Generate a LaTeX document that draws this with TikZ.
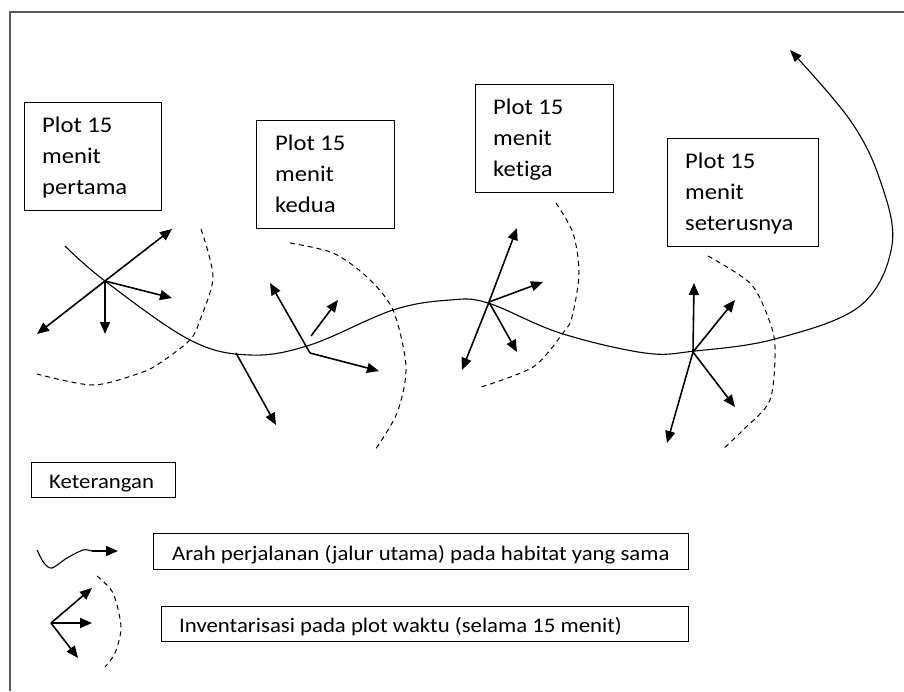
\documentclass[tikz,border=0pt]{standalone}
\usepackage{fontspec}
\setmainfont{Carlito}[FakeStretch=1.1,Ligatures=NoCommon]
\usetikzlibrary{arrows.meta}

\begin{document}
\begin{tikzpicture}[x=1pt,y=-1pt,
  vec/.style={-{Triangle[length=12pt,width=10pt]},line width=1.6pt},
  jalur/.style={line width=1.1pt},
  batas/.style={line width=1pt,dash pattern=on 5pt off 4pt},
  kotak/.style={draw,line width=1.2pt,minimum height=108pt,inner sep=0pt,anchor=north west},
  isi/.style={anchor=north west,inner sep=0pt,align=left,font=\fontsize{22.4}{31}\selectfont},
  ket/.style={anchor=base west,inner sep=0pt,font=\fontsize{20.7}{24}\selectfont}]
\useasboundingbox (0,0) rectangle (904,691);
\draw[line width=1.4pt,black!65] (10,691)--(10,12)--(904,12);

% kotak plot
\node[kotak,minimum width=137pt] (k1) at (24,102) {};
\node[kotak,minimum width=138pt] (k2) at (256,120) {};
\node[kotak,minimum width=138pt] (k3) at (475,84) {};
\node[kotak,minimum width=151pt] (k4) at (667,138) {};
\node[isi] (t1) at ([shift={(18,15)}]k1.north west) {Plot 15\\menit\\pertama};
\node[isi] (t2) at ([shift={(19,15)}]k2.north west) {Plot 15\\menit\\kedua};
\node[isi] (t3) at ([shift={(18,15)}]k3.north west) {Plot 15\\menit\\ketiga};
\node[isi] (t4) at ([shift={(18,15)}]k4.north west) {Plot 15\\menit\\seterusnya};

% jalur utama
\draw[jalur,-{Triangle[length=12pt,width=9pt]}] plot[smooth,tension=0.6] coordinates {(65,246) (105,281) (190,340) (250,355) (310,345) (393,310) (450,300) (488,303) (560,333) (645,353) (695,351) (775,339) (860,306) (892,245) (880,180) (850,120) (790,50)};

\coordinate (p1) at (105,281);
\coordinate (p2) at (310,353);
\coordinate (q2) at (236,353);
\coordinate (p3) at (489,302);
\coordinate (p4) at (693,352);

% plot 1
\draw[vec] (p1) -- ++(67,-52);
\draw[vec] (p1) -- ++(-68,53);
\draw[vec] (p1) -- ++(67,17);
\draw[vec] (p1) -- ++(0,53);
\draw[batas] plot[smooth] coordinates {(201,229) (213,277) (200,320) (190,340) (160,363) (140,373) (93,385) (37,374)};

% plot 2
\draw[vec] (p2) -- ++(-40,-70);
\draw[vec] (p2) -- ++(69,18);
\draw[vec] ([shift={(1,-17)}]p2) -- ++(27,-36);
\draw[vec] (q2) -- ++(40,72);
\draw[batas] plot[smooth] coordinates {(290,243) (333,253) (367,277) (393,310) (406,367) (397,413) (375,450)};

% plot 3
\draw[vec] (p3) -- ++(28,-74);
\draw[vec] (p3) -- ++(-27,68);
\draw[vec] (p3) -- ++(54,-20);
\draw[vec] (p3) -- ++(28,50);
\draw[batas] plot[smooth] coordinates {(556,203) (573,233) (579,273) (572,317) (563,333) (533,367) (478,388)};

% plot 4
\draw[vec] (p4) -- ++(1,-69);
\draw[vec] (p4) -- ++(42,-52);
\draw[vec] (p4) -- ++(42,55);
\draw[vec] (p4) -- ++(-26,91);
\draw[batas] plot[smooth] coordinates {(708,256) (750,283) (768,317) (775,347) (770,400) (743,430) (722,450)};

% keterangan
\node[kotak,minimum width=144pt,minimum height=35pt] (k5) at (31,462) {};
\node[ket] (t5) at (49,488) {Keterangan};

\coordinate (w) at (92,551);
\draw[jalur] plot[smooth] coordinates {(37,550) (44,563) (52,568) (67,558) (83,550) (w)};
\draw[vec] (w) -- ++(26,0);
\node[kotak,minimum width=535pt,minimum height=36pt] (k6) at (153,533) {};
\node[ket] (t6) at (172,560) {Arah perjalanan (jalur utama) pada habitat yang sama};

\coordinate (q) at (51,623);
\draw[vec] (q) -- ++(41,-35);
\draw[vec] (q) -- ++(41,0);
\draw[vec] (q) -- ++(27,35);
\draw[batas] plot[smooth] coordinates {(97,576) (113,593) (121,627) (115,653) (105,667)};
\node[kotak,minimum width=527pt,minimum height=35pt] (k7) at (161,606) {};
\node[ket] (t7) at (179,632) {Inventarisasi pada plot waktu (selama 15 menit)};
\end{tikzpicture}
\end{document}
